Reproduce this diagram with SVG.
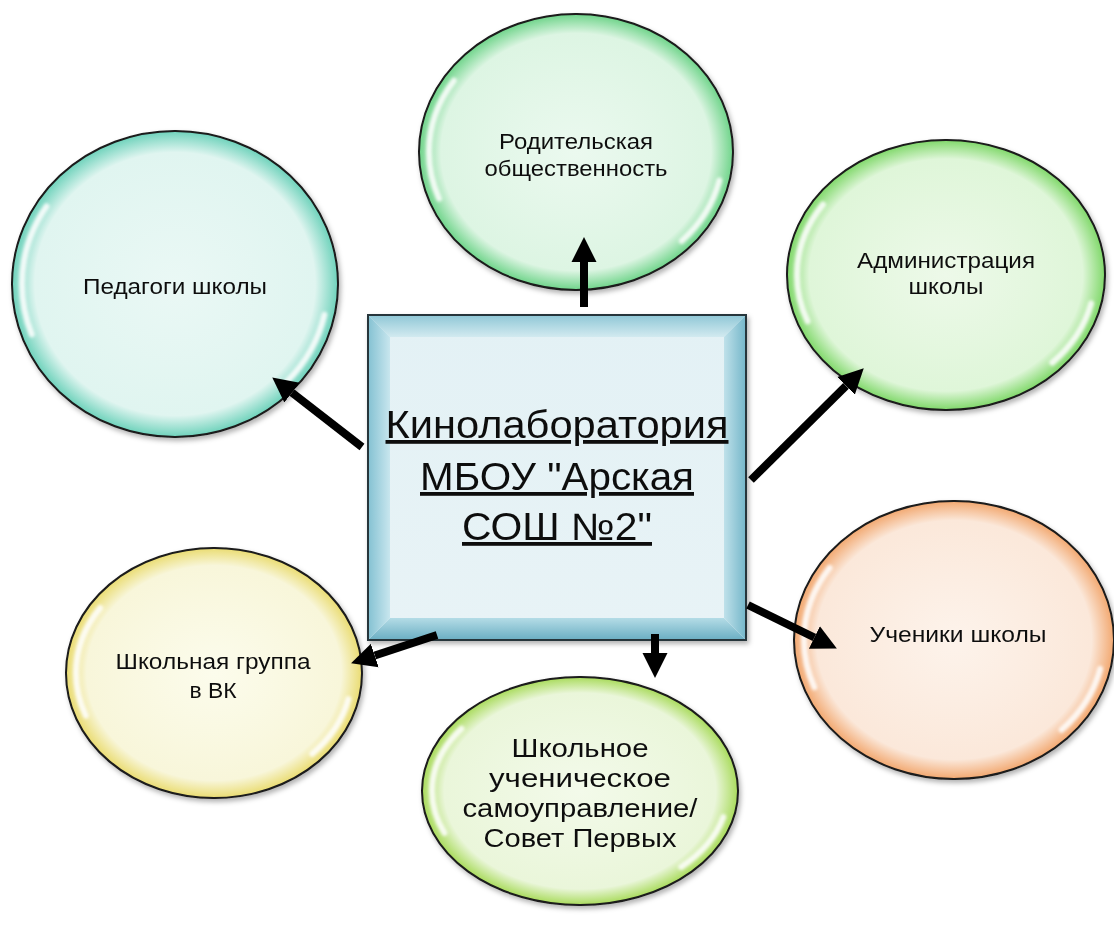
<svg xmlns="http://www.w3.org/2000/svg" width="1114" height="926" viewBox="0 0 1114 926">
<style>
text{font-family:"Liberation Sans",Arial,sans-serif;fill:#111;text-anchor:middle}
.lbl{font-size:22px}
.big{font-size:26px}
.ttl{font-size:38px;text-decoration:underline}
.rim{stroke:#1a1a1a;stroke-width:2}
.hl{fill:none;stroke:#fff;stroke-width:6;stroke-linecap:round;opacity:0.85;filter:url(#blur)}
.arr{stroke:#000;stroke-width:8;fill:none;marker-end:url(#ah)}
</style>
<defs>
<filter id="blur" x="-20%" y="-20%" width="140%" height="140%"><feGaussianBlur stdDeviation="1.8"/></filter>
<filter id="sh" x="-10%" y="-10%" width="125%" height="125%"><feDropShadow dx="2" dy="3" stdDeviation="2.5" flood-color="#000" flood-opacity="0.3"/></filter>
<marker id="ah" markerUnits="userSpaceOnUse" markerWidth="28" markerHeight="28" viewBox="0 -14 28 28" refX="0" refY="0" orient="auto">
<path d="M0,-12.5 L25,0 L0,12.5 z" fill="#000"/>
</marker>
<radialGradient id="gTeal" cx="50%" cy="50%" r="50%"><stop offset="0" stop-color="#eaf8f5"/><stop offset="0.86" stop-color="#e0f5f0"/><stop offset="1" stop-color="#6ed2bb"/></radialGradient>
<radialGradient id="gGreenA" cx="50%" cy="50%" r="50%"><stop offset="0" stop-color="#ebf9ef"/><stop offset="0.86" stop-color="#ddf5e3"/><stop offset="1" stop-color="#6fd48a"/></radialGradient>
<radialGradient id="gGreenB" cx="50%" cy="50%" r="50%"><stop offset="0" stop-color="#edf9e9"/><stop offset="0.86" stop-color="#dff6d9"/><stop offset="1" stop-color="#80d86a"/></radialGradient>
<radialGradient id="gOrange" cx="50%" cy="50%" r="50%"><stop offset="0" stop-color="#fdf3eb"/><stop offset="0.86" stop-color="#fbe8da"/><stop offset="1" stop-color="#f2a870"/></radialGradient>
<radialGradient id="gYellow" cx="50%" cy="50%" r="50%"><stop offset="0" stop-color="#fcfcec"/><stop offset="0.86" stop-color="#f8f6da"/><stop offset="1" stop-color="#eadc72"/></radialGradient>
<radialGradient id="gLime" cx="50%" cy="50%" r="50%"><stop offset="0" stop-color="#f3faea"/><stop offset="0.86" stop-color="#eaf6da"/><stop offset="1" stop-color="#a9db5c"/></radialGradient>
<linearGradient id="bTop" x1="0" y1="0" x2="0" y2="1"><stop offset="0" stop-color="#8fc7d6"/><stop offset="1" stop-color="#d2eaf0"/></linearGradient>
<linearGradient id="bBot" x1="0" y1="1" x2="0" y2="0"><stop offset="0" stop-color="#6aaec3"/><stop offset="1" stop-color="#b4dce6"/></linearGradient>
<linearGradient id="bLeft" x1="0" y1="0" x2="1" y2="0"><stop offset="0" stop-color="#84c1d2"/><stop offset="1" stop-color="#c8e6ee"/></linearGradient>
<linearGradient id="bRight" x1="1" y1="0" x2="0" y2="0"><stop offset="0" stop-color="#74b6c9"/><stop offset="1" stop-color="#bfe1ea"/></linearGradient>
<linearGradient id="face" x1="0" y1="0" x2="0" y2="1"><stop offset="0" stop-color="#e3f1f5"/><stop offset="1" stop-color="#e8f3f6"/></linearGradient>
</defs>

<g id="node-pedagogi" filter="url(#sh)">
<ellipse cx="175" cy="284" rx="163" ry="153" fill="url(#gTeal)" class="rim"/>
<ellipse class="hl" cx="175" cy="284" rx="153" ry="143" pathLength="360" stroke-dasharray="30 118 52 160" stroke-dashoffset="-12"/>
<text class="lbl" x="175" y="294" textLength="184" lengthAdjust="spacingAndGlyphs">Педагоги школы</text>
</g>

<g id="node-roditeli" filter="url(#sh)">
<ellipse cx="576" cy="152" rx="157" ry="138" fill="url(#gGreenA)" class="rim"/>
<ellipse class="hl" cx="576" cy="152" rx="147" ry="128" pathLength="360" stroke-dasharray="30 118 52 160" stroke-dashoffset="-12"/>
<text class="lbl" x="576" y="149" textLength="154" lengthAdjust="spacingAndGlyphs">Родительская</text>
<text class="lbl" x="576" y="176" textLength="183" lengthAdjust="spacingAndGlyphs">общественность</text>
</g>

<g id="node-admin" filter="url(#sh)">
<ellipse cx="946" cy="275" rx="159" ry="135" fill="url(#gGreenB)" class="rim"/>
<ellipse class="hl" cx="946" cy="275" rx="149" ry="125" pathLength="360" stroke-dasharray="30 118 52 160" stroke-dashoffset="-12"/>
<text class="lbl" x="946" y="268" textLength="178" lengthAdjust="spacingAndGlyphs">Администрация</text>
<text class="lbl" x="946" y="294" textLength="75" lengthAdjust="spacingAndGlyphs">школы</text>
</g>

<g id="node-ucheniki" filter="url(#sh)">
<ellipse cx="954" cy="640" rx="160" ry="139" fill="url(#gOrange)" class="rim"/>
<ellipse class="hl" cx="954" cy="640" rx="150" ry="129" pathLength="360" stroke-dasharray="30 118 52 160" stroke-dashoffset="-12"/>
<text class="lbl" x="958" y="642" textLength="177" lengthAdjust="spacingAndGlyphs">Ученики школы</text>
</g>

<g id="node-vk" filter="url(#sh)">
<ellipse cx="214" cy="673" rx="148" ry="125" fill="url(#gYellow)" class="rim"/>
<ellipse class="hl" cx="214" cy="673" rx="138" ry="115" pathLength="360" stroke-dasharray="30 118 52 160" stroke-dashoffset="-12"/>
<text class="lbl" x="213" y="669" textLength="195" lengthAdjust="spacingAndGlyphs">Школьная группа</text>
<text class="lbl" x="213" y="698" textLength="47" lengthAdjust="spacingAndGlyphs">в ВК</text>
</g>

<g id="node-samoupr" filter="url(#sh)">
<ellipse cx="580" cy="791" rx="158" ry="114" fill="url(#gLime)" class="rim"/>
<ellipse class="hl" cx="580" cy="791" rx="148" ry="104" pathLength="360" stroke-dasharray="30 118 52 160" stroke-dashoffset="-12"/>
<text class="big" x="580" y="757" textLength="137" lengthAdjust="spacingAndGlyphs">Школьное</text>
<text class="big" x="580" y="787" textLength="182" lengthAdjust="spacingAndGlyphs">ученическое</text>
<text class="big" x="580" y="817" textLength="235" lengthAdjust="spacingAndGlyphs">самоуправление/</text>
<text class="big" x="580" y="847" textLength="193" lengthAdjust="spacingAndGlyphs">Совет Первых</text>
</g>

<g id="node-center" filter="url(#sh)">
<rect x="368" y="315" width="378" height="325" fill="url(#face)"/>
<polygon points="368,315 746,315 724,337 390,337" fill="url(#bTop)"/>
<polygon points="368,640 746,640 724,618 390,618" fill="url(#bBot)"/>
<polygon points="368,315 390,337 390,618 368,640" fill="url(#bLeft)"/>
<polygon points="746,315 724,337 724,618 746,640" fill="url(#bRight)"/>
<rect x="368" y="315" width="378" height="325" fill="none" stroke="#26343a" stroke-width="2"/>
<text class="ttl" x="557" y="438" textLength="343" lengthAdjust="spacingAndGlyphs">Кинолаборатория</text>
<text class="ttl" x="557" y="490" textLength="274" lengthAdjust="spacingAndGlyphs">МБОУ "Арская</text>
<text class="ttl" x="557" y="540" textLength="190" lengthAdjust="spacingAndGlyphs">СОШ №2"</text>
</g>

<g id="connectors">
<line class="arr" x1="584" y1="307" x2="584" y2="262"/>
<line class="arr" x1="362" y1="447" x2="292" y2="392.7"/>
<line class="arr" x1="751" y1="480" x2="846" y2="385.9"/>
<line class="arr" x1="748" y1="605" x2="814.4" y2="637.5"/>
<line class="arr" x1="437" y1="635" x2="374.8" y2="655.5"/>
<line class="arr" x1="655" y1="634" x2="655" y2="653"/>
</g>
</svg>
